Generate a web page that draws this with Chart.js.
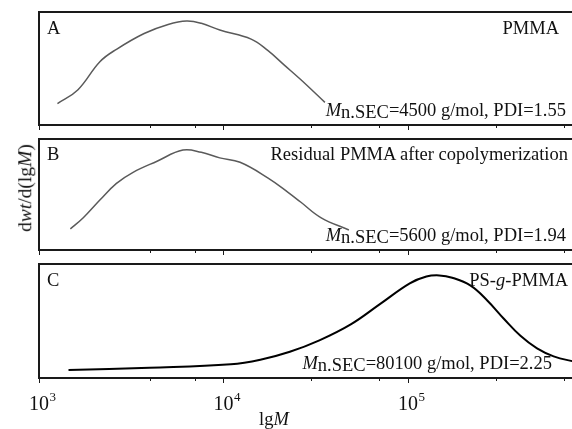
<!DOCTYPE html>
<html>
<head>
<meta charset="utf-8">
<script src="https://cdn.jsdelivr.net/npm/chart.js@4.4.1/dist/chart.umd.min.js"></script>
<style>
  body { margin: 0; width: 572px; height: 429px; overflow: hidden; background: #fff; position: relative; }
  canvas { position: absolute; left: 0; top: 0; }
  .lbl { position: absolute; font-family: "Liberation Serif", "Times New Roman", serif; font-size: 18.5px; line-height: 1; white-space: nowrap; color: #111; }
  .sub { position: relative; top: 2px; }
</style>
</head>
<body>
<canvas id="cA" width="580" height="429"></canvas>
<canvas id="cB" width="580" height="429"></canvas>
<canvas id="cC" width="580" height="429"></canvas>

<div class="lbl" style="left:47px; top:19px;">A</div>
<div class="lbl" style="right:13px; top:19px;">PMMA</div>
<div class="lbl" style="right:6px; top:101px;"><i>M</i><span class="sub">n.SEC</span>=4500 g/mol, PDI=1.55</div>

<div class="lbl" style="left:47px; top:145px;">B</div>
<div class="lbl" style="right:4px; top:145px;">Residual PMMA after copolymerization</div>
<div class="lbl" style="right:6px; top:226px;"><i>M</i><span class="sub">n.SEC</span>=5600 g/mol, PDI=1.94</div>

<div class="lbl" style="left:47px; top:271px;">C</div>
<div class="lbl" style="right:4px; top:271px;">PS-<i>g</i>-PMMA</div>
<div class="lbl" style="right:20px; top:354px;"><i>M</i><span class="sub">n.SEC</span>=80100 g/mol, PDI=2.25</div>

<div class="lbl" style="left:259px; top:410px;">lg<i>M</i></div>
<div class="lbl" style="left:25px; top:188px; font-size:19.5px; transform: translate(-50%, -50%) rotate(-90deg);">d<i>wt</i>/d(lg<i>M</i>)</div>

<script>
// x range of the shared log axis
var X_MIN = 1000;
var X_MAX = 815000;

// panel A - PMMA
var lgA  = [3.10, 3.21, 3.33, 3.42, 3.57, 3.70, 3.80, 3.88, 3.98, 4.15, 4.24, 4.33, 4.42, 4.55];
var valA = [0.19, 0.31, 0.56, 0.67, 0.81, 0.89, 0.92, 0.90, 0.84, 0.76, 0.66, 0.53, 0.40, 0.20];

// panel B - residual PMMA
var lgB  = [3.17, 3.24, 3.33, 3.42, 3.51, 3.64, 3.78, 3.88, 3.98, 4.09, 4.24, 4.35, 4.42, 4.53, 4.68];
var valB = [0.19, 0.29, 0.45, 0.60, 0.70, 0.80, 0.90, 0.88, 0.83, 0.79, 0.65, 0.52, 0.43, 0.29, 0.18];

// panel C - PS-g-PMMA
var lgC  = [3.16, 3.60, 4.04, 4.20, 4.36, 4.52, 4.69, 4.85, 5.01, 5.10, 5.17, 5.24, 5.34, 5.43, 5.52, 5.61, 5.70, 5.79, 5.91];
var valC = [0.07, 0.09, 0.12, 0.16, 0.23, 0.33, 0.47, 0.65, 0.83, 0.89, 0.90, 0.88, 0.81, 0.68, 0.52, 0.37, 0.26, 0.19, 0.14];

var toPoints = function(lg, val) {
    return lg.map(function(l, i) { return {x: Math.pow(10, l), y: val[i]}; });
};

var isMajor = function(v) {
    var l = Math.log10(v);
    return Math.abs(l - Math.round(l)) < 1e-6;
};

// frame, ticks under each panel and decade labels on the last one
var framePlugin = {
    id: 'frame',
    afterDraw: function(chart, args, opts) {
        var ctx = chart.ctx;
        var a = chart.chartArea;
        var xs = chart.scales.x;
        ctx.save();
        ctx.strokeStyle = '#1a1a1a';
        ctx.lineWidth = 2;
        ctx.strokeRect(a.left, a.top, a.right - a.left, a.bottom - a.top);

        ctx.lineWidth = 1;
        xs.ticks.forEach(function(t) {
            if (t.value > X_MAX) return;
            var px = Math.round(xs.getPixelForValue(t.value)) + 0.5;
            var len = isMajor(t.value) ? 5 : 3;
            ctx.beginPath();
            ctx.moveTo(px, a.bottom);
            ctx.lineTo(px, a.bottom + len);
            ctx.stroke();
        });

        if (opts.labels) {
            ctx.fillStyle = '#111';
            ctx.textBaseline = 'alphabetic';
            xs.ticks.forEach(function(t) {
                if (!isMajor(t.value)) return;
                var px = xs.getPixelForValue(t.value);
                ctx.font = '20px "Liberation Serif"';
                ctx.textAlign = 'center';
                ctx.fillText('10', px, 410);
                var w = ctx.measureText('10').width;
                ctx.font = '13px "Liberation Serif"';
                ctx.textAlign = 'left';
                ctx.fillText(String(Math.round(Math.log10(t.value))), px + w / 2 + 0.5, 401);
            });
        }
        ctx.restore();
    }
};

var makePanel = function(id, lg, val, color, width, top, bottom, labels) {
    new Chart(document.getElementById(id), {
        type: 'line',
        data: {
            datasets: [{
                data: toPoints(lg, val),
                borderColor: color,
                borderWidth: width,
                pointRadius: 0,
                fill: false,
                tension: 0.4
            }]
        },
        options: {
            responsive: false,
            maintainAspectRatio: false,
            animation: false,
            layout: { padding: { left: 39, right: 4, top: top, bottom: 429 - bottom } },
            plugins: {
                legend: { display: false },
                tooltip: { enabled: false },
                frame: { labels: labels }
            },
            scales: {
                x: { type: 'logarithmic', display: false, min: X_MIN, max: X_MAX },
                y: { display: false, min: 0, max: 1 }
            }
        },
        plugins: [framePlugin]
    });
};

makePanel('cA', lgA, valA, '#5a5a5a', 1.5, 12, 125, false);
makePanel('cB', lgB, valB, '#5a5a5a', 1.5, 139, 250, false);
makePanel('cC', lgC, valC, '#000000', 2, 264, 378, true);
</script>
</body>
</html>
